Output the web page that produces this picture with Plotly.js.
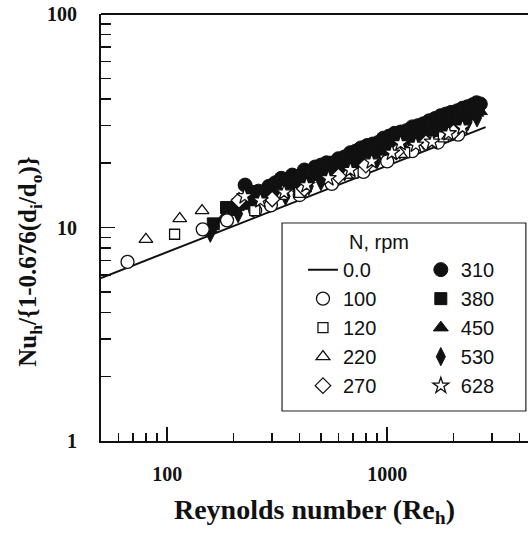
<!DOCTYPE html>
<html><head><meta charset="utf-8">
<script src="https://cdn.plot.ly/plotly-3.0.1.min.js"></script>
<style>html,body{margin:0;padding:0;background:#fff;overflow:hidden}</style>
</head><body><div id="chart" style="width:528px;height:540px"></div>
<script>
// Correlation line for N = 0.0 rpm
const re_00 = [50, 2800];
const nu_00 = [5.8, 29.5];

// N = 100 rpm (open circles)
const re_100 = [66, 145, 187, 251, 296, 400, 560, 780, 1000, 1300, 1700, 2100];
const nu_100 = [6.9, 9.8, 10.8, 12.0, 12.7, 14.2, 16.0, 18.2, 20.4, 22.8, 25.0, 27.2];

// N = 120 rpm (open squares)
const re_120 = [108, 250, 400, 700, 1200, 1800];
const nu_120 = [9.3, 12.0, 14.6, 18.0, 22.4, 26.6];

// N = 220 rpm (open triangles)
const re_220 = [80, 114, 144, 330, 650, 1150, 1900];
const nu_220 = [8.8, 11.0, 12.0, 14.0, 17.6, 22.0, 26.8];

// N = 270 rpm (open diamonds)
const re_270 = [212, 300, 420, 600, 800, 1100, 1500, 2000];
const nu_270 = [13.4, 13.6, 15.2, 17.4, 19.6, 22.6, 25.0, 28.0];

// N = 310 rpm (filled circles)
const re_310 = [226, 245, 260, 290, 310, 330, 370, 395, 420, 470, 500, 530, 600, 640, 680, 720, 760, 810, 860, 910, 960, 1020, 1080, 1150, 1220, 1300, 1380, 1460, 1550, 1650, 1750, 1850, 1950, 2080, 2200, 2320, 2450, 2550, 2650];
const nu_310 = [15.8, 14.6, 14.8, 15.6, 16.2, 17.0, 17.6, 17.4, 18.6, 19.2, 19.6, 20.1, 21.0, 21.4, 22.4, 22.8, 23.6, 24.2, 24.6, 25.0, 26.2, 26.8, 27.6, 28.0, 28.4, 29.6, 30.0, 30.6, 31.6, 32.4, 33.4, 34.0, 34.6, 35.2, 36.2, 36.8, 37.6, 38.4, 37.9];

// N = 380 rpm (filled squares)
const re_380 = [162, 186, 210, 235, 270, 290, 310, 350, 375, 400, 450, 480, 510, 545, 580, 615, 650, 690, 730, 775, 820, 870, 920, 980, 1040, 1100, 1170, 1240, 1320, 1400, 1480, 1580, 1680, 1780, 1880, 1990, 2100, 2220, 2350, 2480, 2600];
const nu_380 = [10.4, 12.4, 12.8, 13.6, 14.6, 15.0, 15.8, 16.8, 16.4, 17.4, 18.4, 18.6, 19.2, 19.8, 20.2, 20.8, 21.2, 22.0, 22.4, 22.6, 23.4, 24.0, 24.6, 25.2, 25.8, 26.4, 27.0, 27.6, 28.4, 28.8, 29.6, 30.6, 31.4, 32.0, 32.8, 33.4, 34.4, 35.0, 35.8, 36.4, 37.0];

// N = 450 rpm (filled triangles)
const re_450 = [157, 180, 200, 225, 245, 280, 300, 320, 360, 385, 410, 435, 460, 490, 520, 555, 590, 630, 670, 710, 750, 800, 850, 900, 950, 1010, 1070, 1140, 1210, 1290, 1370, 1450, 1540, 1640, 1740, 1840, 1940, 2060, 2190, 2310, 2440, 2540, 2640];
const nu_450 = [9.8, 11.0, 11.8, 12.6, 13.0, 14.0, 14.2, 14.8, 15.6, 16.0, 16.4, 16.8, 17.2, 17.6, 18.0, 18.4, 19.0, 19.6, 20.0, 20.4, 21.0, 21.6, 22.0, 22.6, 23.0, 23.6, 24.2, 24.8, 25.4, 26.0, 26.6, 27.2, 27.8, 28.4, 29.2, 30.0, 30.6, 31.4, 32.2, 33.0, 33.6, 34.4, 35.0];

// N = 530 rpm (filled tall diamonds)
const re_530 = [157, 210, 250, 300, 345, 390, 440, 500, 560, 640, 720, 800, 900, 1010, 1140, 1300, 1460, 1650, 1850, 2080, 2320, 2560];
const nu_530 = [9.4, 11.6, 12.4, 13.2, 14.0, 14.8, 15.6, 16.4, 17.2, 18.2, 19.2, 20.0, 20.8, 22.0, 23.0, 24.4, 25.6, 27.0, 28.2, 29.8, 31.2, 32.6];

// N = 628 rpm (open stars)
const re_628 = [225, 265, 340, 430, 540, 680, 850, 1050, 1150, 1350, 1600, 1900, 2200];
const nu_628 = [14.0, 13.4, 14.6, 15.8, 17.0, 18.6, 20.4, 22.4, 24.8, 24.4, 25.2, 27.6, 29.4];

const legendTitle = "N, rpm";
const xTitle = "Reynolds number (Re<sub>h</sub>)";
const yTitle = "Nu<sub>h</sub>/{1-0.676(d<sub>i</sub>/d<sub>o</sub>)}";

const filled = (name, x, y, symbol, size) => ({
  type: 'scatter', mode: 'markers', name: name, x: x, y: y, legend: 'legend2',
  marker: {symbol: symbol, size: size, color: '#111', line: {color: '#111', width: 1}}
});
const open = (name, x, y, symbol, size, leg) => ({
  type: 'scatter', mode: 'markers', name: name, x: x, y: y, legend: leg,
  marker: {symbol: symbol, size: size, color: '#fff', line: {color: '#111', width: 1.3}}
});

const data = [
  {type: 'scatter', mode: 'lines', name: '0.0', x: re_00, y: nu_00, legend: 'legend',
   line: {color: '#111', width: 2}},
  filled('310', re_310, nu_310, 'circle', 14),
  filled('380', re_380, nu_380, 'square', 12),
  filled('450', re_450, nu_450, 'triangle-up', 13),
  filled('530', re_530, nu_530, 'diamond-tall', 13),
  open('100', re_100, nu_100, 'circle', 13, 'legend'),
  open('120', re_120, nu_120, 'square', 10, 'legend'),
  open('220', re_220, nu_220, 'triangle-up', 12, 'legend'),
  open('270', re_270, nu_270, 'diamond', 12, 'legend'),
  open('628', re_628, nu_628, 'star', 12, 'legend2')
];

const tickFont = {family: 'Liberation Serif', size: 20, color: '#111', weight: 'bold'};
const legFont = {family: 'Liberation Sans', size: 20, color: '#111'};

const layout = {
  width: 528, height: 540,
  margin: {l: 101, r: 0, t: 14, b: 99},
  paper_bgcolor: '#fff', plot_bgcolor: '#fff',
  showlegend: true,
  xaxis: {
    type: 'log', range: [Math.log10(50), 3.64], dtick: 1,
    showgrid: false, zeroline: false,
    showline: true, linecolor: '#111', linewidth: 2,
    ticks: 'inside', ticklen: 14, tickwidth: 1.5, tickcolor: '#111',
    minor: {ticks: 'inside', ticklen: 8, tickwidth: 1.5, tickcolor: '#111', dtick: 'D1', showgrid: false},
    tickfont: tickFont, ticklabelstandoff: 14,
    title: {text: xTitle, font: {family: 'Liberation Serif', size: 28, color: '#111', weight: 'bold'}, standoff: 15}
  },
  yaxis: {
    type: 'log', range: [0, 2], dtick: 1,
    showgrid: false, zeroline: false,
    showline: true, linecolor: '#111', linewidth: 2,
    ticks: 'inside', ticklen: 14, tickwidth: 1.5, tickcolor: '#111',
    minor: {ticks: 'inside', ticklen: 10, tickwidth: 1.5, tickcolor: '#111', dtick: 'D1', showgrid: false},
    tickfont: tickFont, ticklabelstandoff: 18
  },
  legend: {x: 0.473, y: 0.447, xanchor: 'left', yanchor: 'top', bgcolor: 'rgba(0,0,0,0)',
           borderwidth: 0, font: legFont, traceorder: 'normal', tracegroupgap: 0},
  legend2: {x: 0.749, y: 0.447, xanchor: 'left', yanchor: 'top', bgcolor: 'rgba(0,0,0,0)',
            borderwidth: 0, font: legFont, traceorder: 'normal', tracegroupgap: 0},
  shapes: [
    {type: 'rect', xref: 'paper', yref: 'paper', x0: 0.424, x1: 0.995, y0: 0.0703, y1: 0.5105,
     line: {color: '#222', width: 1.2}, fillcolor: '#fff', layer: 'below'},
    {type: 'line', xref: 'paper', yref: 'paper', x0: 0, x1: 1, y0: 1, y1: 1,
     line: {color: '#111', width: 2}}
  ],
  annotations: [
    {text: legendTitle, xref: 'paper', yref: 'paper', x: 0.65, y: 0.467, xanchor: 'center', yanchor: 'middle',
     showarrow: false, font: legFont},
    {text: yTitle, xref: 'paper', yref: 'paper', x: -0.166, y: 0.42, xanchor: 'center', yanchor: 'middle',
     textangle: -90, showarrow: false,
     font: {family: 'Liberation Serif', size: 25, color: '#111', weight: 'bold'}}
  ]
};

Plotly.newPlot('chart', data, layout, {displayModeBar: false, staticPlot: true});
</script></body></html>
